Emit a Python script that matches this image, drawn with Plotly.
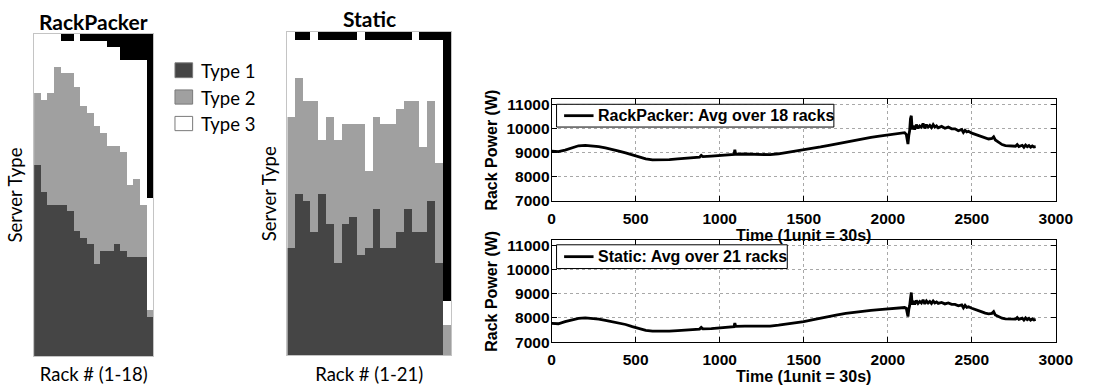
import plotly.graph_objects as go

W, H = 1101, 387

# ---- rack composition (slots per rack, stacked bottom to top) ----
RP_RACKS = list(range(1, 19))
RP_TYPE1 = [29, 25, 23, 23, 23, 22, 19, 18, 17, 14, 16, 16, 17, 16, 15, 15, 15, 6]
RP_TYPE2 = [11, 14, 17, 21, 20, 21, 22, 20, 20, 21, 18, 16, 15, 15, 11, 12, 8, 1]
RP_TYPE3 = [9, 10, 9, 5, 5, 5, 8, 10, 11, 13, 14, 15, 15, 14, 19, 18, 22, 17]
RP_EMPTY = [0, 0, 0, 0, 1, 1, 0, 1, 1, 1, 1, 2, 2, 4, 4, 4, 4, 25]

ST_RACKS = list(range(1, 22))
ST_TYPE1 = [14, 21, 20, 16, 21, 17, 12, 17, 18, 13, 14, 19, 14, 14, 16, 19, 16, 16, 20, 12, 0]
ST_TYPE2 = [17, 15, 13, 17, 7, 14, 16, 13, 12, 17, 10, 12, 16, 16, 16, 14, 17, 11, 13, 13, 4]
ST_TYPE3 = [11, 5, 8, 9, 13, 10, 13, 11, 11, 12, 17, 10, 11, 11, 9, 8, 9, 14, 8, 16, 3]
ST_EMPTY = [0, 1, 1, 0, 1, 1, 1, 1, 1, 0, 1, 1, 1, 1, 1, 1, 0, 1, 1, 1, 35]

TYPE_NAMES = ["Type 1", "Type 2", "Type 3"]

# ---- average rack power over time (1 unit = 30 s) ----
TIME = [0, 40, 80, 120, 160, 200, 240, 280, 320, 360,
        400, 440, 480, 520, 560, 600, 650, 700, 750, 800,
        850, 880, 890, 900, 950, 1000, 1050, 1085, 1090, 1095,
        1150, 1200, 1250, 1300, 1350, 1400, 1450, 1500, 1550, 1600,
        1650, 1700, 1750, 1800, 1850, 1900, 1950, 2000, 2050, 2100,
        2110, 2115, 2120, 2125, 2130, 2135, 2140, 2145, 2150, 2160,
        2170, 2180, 2190, 2200, 2210, 2220, 2230, 2240, 2250, 2260,
        2270, 2280, 2290, 2300, 2320, 2340, 2360, 2380, 2400, 2420,
        2440, 2450, 2460, 2470, 2480, 2500, 2520, 2540, 2560, 2580,
        2600, 2620, 2630, 2640, 2660, 2680, 2700, 2720, 2740, 2760,
        2770, 2780, 2800, 2810, 2820, 2830, 2840, 2850, 2860, 2870, 2880]

RP_POWER = [9060, 9040, 9100, 9200, 9280, 9300, 9280, 9240, 9190, 9140,
            9060, 8990, 8900, 8820, 8740, 8700, 8690, 8710, 8740, 8760,
            8790, 8810, 8880, 8830, 8850, 8870, 8900, 8920, 9120, 8930,
            8940, 8920, 8900, 8910, 8950, 9000, 9050, 9100, 9170, 9230,
            9300, 9370, 9430, 9500, 9570, 9630, 9680, 9720, 9750, 9820,
            9750, 9500, 9350, 9700, 9900, 10400, 10520, 9950, 10100, 9950,
            10150, 10000, 10100, 10050, 10200, 10000, 10150, 10050, 10120, 10030,
            10150, 10050, 10100, 10020, 10080, 10000, 10050, 9980, 9980, 9900,
            9950, 9830, 9920, 9850, 9880, 9800, 9750, 9700, 9640, 9600,
            9560, 9580, 9650, 9520, 9420, 9330, 9290, 9280, 9300, 9260,
            9330, 9250, 9300, 9220, 9310, 9240, 9290, 9220, 9270, 9230, 9240]

ST_POWER = [7780, 7760, 7850, 7930, 7980, 8000, 7990, 7950, 7900, 7850,
            7800, 7730, 7640, 7560, 7490, 7460, 7450, 7460, 7480, 7500,
            7520, 7540, 7610, 7550, 7560, 7580, 7620, 7640, 7790, 7650,
            7660, 7650, 7640, 7660, 7700, 7740, 7800, 7850, 7920, 8000,
            8060, 8130, 8190, 8240, 8280, 8310, 8340, 8360, 8390, 8430,
            8400, 8200, 8060, 8350, 8500, 8800, 9050, 8550, 8700, 8560,
            8720, 8600, 8680, 8620, 8750, 8580, 8700, 8620, 8680, 8600,
            8700, 8620, 8660, 8600, 8640, 8580, 8620, 8560, 8560, 8500,
            8540, 8420, 8520, 8440, 8460, 8400, 8340, 8300, 8250, 8200,
            8170, 8190, 8260, 8120, 8050, 7990, 7960, 7960, 7980, 7950,
            8020, 7940, 7990, 7910, 8000, 7930, 7980, 7910, 7960, 7920, 7940]

SERIES_NAMES = ["RackPacker: Avg over 18 racks", "Static: Avg over 21 racks"]

TIME_TICKS = [0, 500, 1000, 1500, 2000, 2500, 3000]
POWER_TICKS = [7000, 8000, 9000, 10000, 11000]

DARK, LIGHT, WHITE, EMPTY = "#454545", "#a0a0a0", "#ffffff", "#000000"
GILL = "Lato"
HELV = "Liberation Sans"


def px_x(p):
    return p / W


def px_y(p):
    return 1 - p / H


fig = go.Figure()

# stacked composition bars
for racks, stacks, xa, ya in [
    (RP_RACKS, [RP_TYPE1, RP_TYPE2, RP_TYPE3, RP_EMPTY], "x", "y"),
    (ST_RACKS, [ST_TYPE1, ST_TYPE2, ST_TYPE3, ST_EMPTY], "x2", "y2"),
]:
    for vals, col in zip(stacks, [DARK, LIGHT, WHITE, EMPTY]):
        fig.add_trace(go.Bar(
            x=racks, y=vals, xaxis=xa, yaxis=ya,
            marker=dict(color=col, line=dict(width=0)),
            showlegend=False, hoverinfo="skip",
        ))

# power traces
for series, name, xa, ya in [(RP_POWER, SERIES_NAMES[0], "x3", "y3"),
                             (ST_POWER, SERIES_NAMES[1], "x4", "y4")]:
    fig.add_trace(go.Scatter(
        x=TIME, y=series, mode="lines", xaxis=xa, yaxis=ya,
        line=dict(color="black", width=2.8),
        name=name, showlegend=False,
    ))

gill_font = dict(family=GILL, size=18.5, color="black")
helv_tick = dict(family=HELV, size=15.5, color="black")
helv_title = dict(family=HELV, size=16, color="black", weight="bold")
GRID = "#a8a8a8"


def bold_labels(vals):
    return [f"<b>{v}</b>" for v in vals]


def rack_axes(n, x0, x1, y0, y1, nslots, xlabel):
    xa = dict(domain=[px_x(x0), px_x(x1)], range=[0.5, n + 0.5],
              showticklabels=False, ticks="", showgrid=False, zeroline=False,
              showline=True, mirror=True, linecolor="#c4c4c4", linewidth=1,
              title=dict(text=xlabel, font=gill_font, standoff=12))
    ya = dict(domain=[px_y(y1), px_y(y0)], range=[0, nslots],
              showticklabels=False, ticks="", showgrid=False, zeroline=False,
              showline=True, mirror=True, linecolor="#c4c4c4", linewidth=1,
              title=dict(text="Server Type", font=gill_font, standoff=5))
    return xa, ya


def power_axes(y0, y1, anchor_x, anchor_y):
    xa = dict(domain=[px_x(558.3), px_x(1072.3)], range=[0, 3000],
              tickvals=TIME_TICKS, ticktext=bold_labels(TIME_TICKS),
              ticks="inside", ticklen=5, tickcolor="black", ticklabelstandoff=3,
              showline=True, mirror="ticks", linecolor="black", linewidth=1,
              showgrid=True, gridcolor=GRID, griddash="dot", gridwidth=1,
              zeroline=False, tickfont=helv_tick, anchor=anchor_y,
              title=dict(text="Time (1unit = 30s)", font=helv_title, standoff=0))
    ya = dict(domain=[px_y(y1), px_y(y0)], range=[7000, 11200],
              tickvals=POWER_TICKS, ticktext=bold_labels(POWER_TICKS),
              ticks="inside", ticklen=5, tickcolor="black", ticklabelstandoff=-2,
              showline=True, mirror="ticks", linecolor="black", linewidth=1,
              showgrid=True, gridcolor=GRID, griddash="dot", gridwidth=1,
              zeroline=False, tickfont=helv_tick, anchor=anchor_x,
              title=dict(text="Rack Power (W)", font=helv_title, standoff=4))
    return xa, ya


xa1, ya1 = rack_axes(18, 30.7, 152.3, 31, 363.3, 49, "Rack # (1-18)")
xa2, ya2 = rack_axes(21, 289, 455.7, 29, 362.7, 42, "Rack # (1-21)")
xa1["anchor"], ya1["anchor"] = "y", "x"
xa2["anchor"], ya2["anchor"] = "y2", "x2"
xa3, ya3 = power_axes(98.3, 203.3, "x3", "y3")
xa4, ya4 = power_axes(244, 349, "x4", "y4")

shapes = []
annotations = []

# key for the server types
for name, col, (top, bot) in zip(TYPE_NAMES, [DARK, LIGHT, WHITE],
                                 [(60.7, 76), (88.7, 103.3), (116, 130.7)]):
    shapes.append(dict(type="rect", xref="paper", yref="paper",
                       x0=px_x(174.3), x1=px_x(192.3), y0=px_y(bot), y1=px_y(top),
                       fillcolor=col, line=dict(color="#7a7a7a", width=1)))
    annotations.append(dict(text=name, xref="paper", yref="paper",
                            x=px_x(199), y=px_y((top + bot) / 2 + 1),
                            xanchor="left", yanchor="middle", showarrow=False,
                            font=gill_font))

# boxed keys inside the power plots
for name, (bx0, bx1, by0, by1) in zip(SERIES_NAMES,
                                      [(563.3, 846, 103.5, 127), (563.3, 798.5, 248.5, 273)]):
    shapes.append(dict(type="rect", xref="paper", yref="paper", layer="above",
                       x0=px_x(bx0), x1=px_x(bx1), y0=px_y(by1), y1=px_y(by0),
                       fillcolor="white", line=dict(color="black", width=1)))
    ym = (by0 + by1) / 2
    shapes.append(dict(type="line", xref="paper", yref="paper", layer="above",
                       x0=px_x(571), x1=px_x(601), y0=px_y(ym), y1=px_y(ym),
                       line=dict(color="black", width=2.8)))
    annotations.append(dict(text=name, xref="paper", yref="paper",
                            x=px_x(604), y=px_y(ym), xanchor="left",
                            yanchor="middle", showarrow=False, font=helv_title))

for text, cx, cy in [("RackPacker", 91.5, 18), ("Static", 372.5, 15)]:
    annotations.append(dict(text=f"<b>{text}</b>", xref="paper", yref="paper",
                            x=px_x(cx), y=px_y(cy), xanchor="center",
                            yanchor="middle", showarrow=False,
                            font=dict(family=GILL, size=21, color="black")))

fig.update_layout(
    width=W, height=H, margin=dict(l=0, r=0, t=0, b=0),
    paper_bgcolor="white", plot_bgcolor="white",
    barmode="stack", bargap=0, showlegend=False,
    xaxis=xa1, yaxis=ya1, xaxis2=xa2, yaxis2=ya2,
    xaxis3=xa3, yaxis3=ya3, xaxis4=xa4, yaxis4=ya4,
    shapes=shapes, annotations=annotations,
    font=dict(family=HELV, color="black"),
)

fig.write_html("out.html")
